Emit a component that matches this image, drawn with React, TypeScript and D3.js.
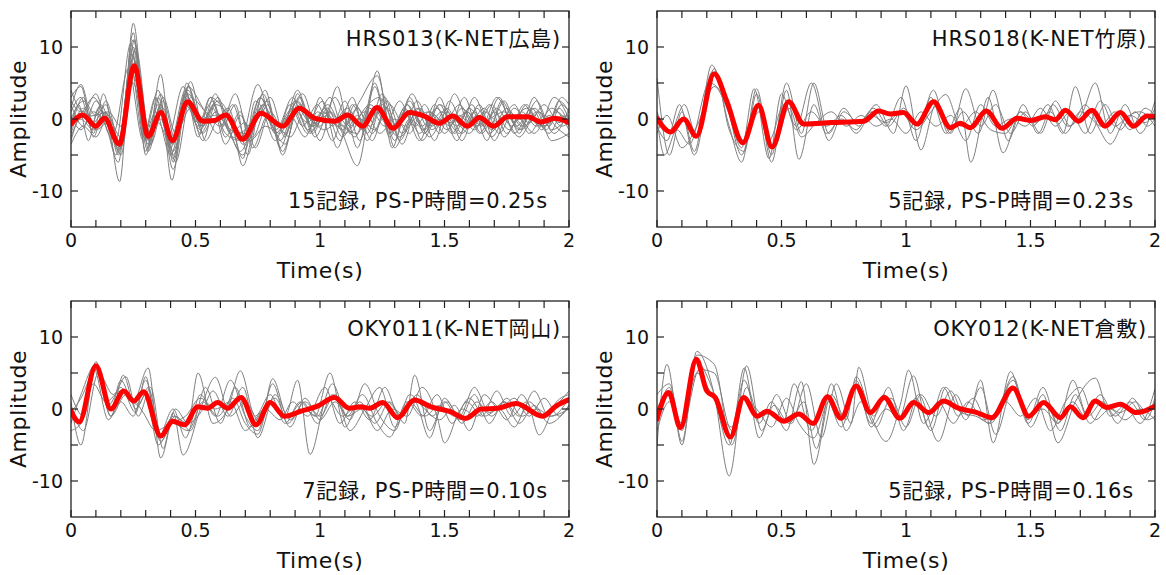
import React from 'react';
import * as d3 from 'd3';

type Pt = [number, number];

// ---------- labels ----------
const xTickValues = [0, 0.5, 1, 1.5, 2];
const xTickLabels = ['0', '0.5', '1', '1.5', '2'];
const yTickValues = [-10, 0, 10];
const yTickLabels = ['-10', '0', '10'];
const stationNames = ['HRS013(K-NET広島)', 'HRS018(K-NET竹原)', 'OKY011(K-NET岡山)', 'OKY012(K-NET倉敷)'];
const recordNotes = ['15記録, PS-P時間=0.25s', '5記録, PS-P時間=0.23s', '7記録, PS-P時間=0.10s', '5記録, PS-P時間=0.16s'];

// ---------- HRS013 ----------
const hrs013Mean: Pt[] = [[0,-0.7],[0.047,0.55],[0.1,-1],[0.134,0.1],[0.194,-3.5],[0.254,7.4],[0.31,-2.4],[0.361,0.9],[0.408,-3],[0.468,2.4],[0.529,-0.3],[0.576,-0.2],[0.622,0.55],[0.689,-2.8],[0.763,0.8],[0.85,-1],[0.917,1.5],[0.98,0.1],[1.06,-0.3],[1.111,0.55],[1.171,-1],[1.229,1.6],[1.294,-1.3],[1.359,0.9],[1.419,0.4],[1.479,-0.6],[1.533,0.4],[1.593,-1],[1.64,0.2],[1.697,-1],[1.754,0.3],[1.834,0.3],[1.888,-0.4],[1.941,0.1],[2,-0.5]];
const hrs013Records: Pt[][] = [
  [[0,-2],[0.05,1.5],[0.1,-1],[0.14,1],[0.195,-8.7],[0.25,13.3],[0.31,-4],[0.36,2],[0.405,-8.5],[0.465,5],[0.53,-2],[0.58,1],[0.63,-1.5],[0.69,-5],[0.76,3],[0.84,-3],[0.91,2.5],[0.97,-1],[1.03,2],[1.09,-2],[1.15,-6.5],[1.23,6.7],[1.29,-4],[1.35,2],[1.41,-1],[1.47,1.5],[1.53,-2],[1.59,1],[1.65,-2],[1.71,1.5],[1.77,-1],[1.83,2],[1.89,-1.5],[1.95,1],[2,-1]],
  [[0,3],[0.04,4.5],[0.09,-2],[0.13,3.5],[0.19,-5],[0.25,11],[0.31,-3],[0.36,6.2],[0.41,-6],[0.47,4.5],[0.53,-1],[0.57,2],[0.62,-2],[0.68,-3],[0.75,4.8],[0.82,-2],[0.88,1],[0.93,3.5],[1.0,-3],[1.07,4.5],[1.12,-2],[1.17,1],[1.24,3],[1.3,-3],[1.36,3],[1.42,-2],[1.48,2],[1.55,-3],[1.62,3],[1.68,-1],[1.74,2.5],[1.8,-2],[1.86,3],[1.92,-1],[1.97,2],[2,1]],
  [[0,-3.5],[0.05,-1],[0.1,-2.5],[0.15,0.5],[0.2,-4],[0.255,9.5],[0.31,-2],[0.36,1],[0.41,-4.5],[0.47,3],[0.52,-1],[0.57,1.5],[0.62,-3.5],[0.68,0.5],[0.73,-2.5],[0.79,2],[0.85,-4.5],[0.91,1],[0.96,-2],[1.02,1.5],[1.08,-3],[1.14,2],[1.2,-1],[1.26,3],[1.32,-3],[1.38,0.5],[1.44,-2.5],[1.5,0],[1.56,-2],[1.62,1],[1.68,-2],[1.74,0],[1.8,-2.5],[1.86,0],[1.92,-2],[1.97,0.5],[2,-0.5]],
  [[0,1],[0.04,3],[0.08,-1],[0.12,2],[0.18,-3],[0.24,10.5],[0.3,-4.5],[0.35,3],[0.4,-3],[0.46,4],[0.51,-2.5],[0.56,3],[0.61,-1],[0.66,2],[0.71,-5],[0.77,3.5],[0.83,-1],[0.89,1.5],[0.95,-2],[1.0,3],[1.05,-1],[1.1,2.5],[1.16,-3],[1.22,4.5],[1.28,-2],[1.34,1],[1.4,-3],[1.46,2],[1.52,-1],[1.58,3],[1.64,-2],[1.7,1],[1.76,-1.5],[1.82,2],[1.88,-1],[1.94,3],[2,0]],
  [[0,-1],[0.03,2],[0.07,-3],[0.11,1.5],[0.17,-2],[0.23,7],[0.29,-3],[0.34,1],[0.4,-5],[0.46,2],[0.52,-1.5],[0.58,3.5],[0.64,-2],[0.7,-0.5],[0.74,-4],[0.8,1],[0.86,-2],[0.92,2],[0.98,-0.5],[1.04,3],[1.1,-2],[1.16,0],[1.22,-1.5],[1.28,2],[1.34,-1],[1.4,1.5],[1.46,-3],[1.52,2.5],[1.58,-1],[1.64,2],[1.7,-3],[1.76,1],[1.82,-1],[1.88,1],[1.94,-2],[2,1.5]],
  [[0,2],[0.05,-1],[0.1,2.5],[0.15,-1],[0.2,-3.5],[0.26,8],[0.32,-2.5],[0.37,2.5],[0.42,-3],[0.48,5.2],[0.54,-3],[0.6,0.5],[0.65,-2.5],[0.71,-3],[0.77,2],[0.83,-1],[0.89,3],[0.95,-1.5],[1.01,1],[1.07,-1],[1.13,3],[1.19,-3],[1.25,2],[1.31,-1],[1.37,3.5],[1.43,-1],[1.49,1],[1.55,-1],[1.61,2],[1.67,-3],[1.73,2.5],[1.79,-1],[1.85,1.5],[1.91,-1.5],[1.96,2.5],[2,1]],
  [[0,0],[0.05,2.5],[0.1,0.5],[0.14,2],[0.19,-4.5],[0.245,9],[0.3,-1.5],[0.35,4],[0.41,-7],[0.47,3.5],[0.53,0],[0.59,2.5],[0.65,-1],[0.69,-6.5],[0.76,1.5],[0.82,-3],[0.88,2],[0.93,-1],[0.99,2],[1.05,-3],[1.1,1],[1.15,-4],[1.22,5],[1.28,-2.5],[1.34,1.5],[1.4,-2],[1.46,0.5],[1.51,-1.5],[1.57,1.5],[1.63,-1],[1.69,2],[1.75,-2],[1.81,1],[1.87,-1],[1.93,1.5],[2,-1.5]],
  [[0,-2.5],[0.04,0],[0.09,-1.5],[0.14,0.8],[0.2,-2.5],[0.25,6],[0.31,-3.5],[0.36,2],[0.4,-4],[0.46,3.5],[0.52,-2],[0.57,0.5],[0.62,-0.5],[0.68,-4.5],[0.74,0],[0.79,2.5],[0.85,-5],[0.91,1.5],[0.97,-1],[1.03,0.5],[1.09,-1.5],[1.15,1.5],[1.21,-2],[1.27,1.5],[1.33,-3.5],[1.39,1.5],[1.45,-1],[1.51,1.5],[1.57,-2],[1.63,0.5],[1.69,-2.5],[1.75,0.5],[1.81,-1.5],[1.87,1],[1.93,-3],[2,-2]],
  [[0,4],[0.05,1],[0.1,3.5],[0.15,-2],[0.19,-3],[0.25,10],[0.3,-3],[0.35,2],[0.41,-5.5],[0.46,2.5],[0.51,-1],[0.56,3],[0.62,1],[0.67,-2],[0.73,0],[0.78,4],[0.84,-4],[0.9,1],[0.95,-0.5],[1.01,2.5],[1.07,-4],[1.13,2],[1.19,-2],[1.25,3.5],[1.3,-1.5],[1.36,2.5],[1.42,-2],[1.48,3],[1.54,-2],[1.6,1.5],[1.66,-1],[1.72,3],[1.78,-2],[1.84,0.5],[1.9,-1],[1.96,1.5],[2,-1]],
  [[0,-0.5],[0.05,0.3],[0.1,0.5],[0.15,1],[0.2,-1],[0.25,5],[0.31,-4.5],[0.37,3],[0.42,-2],[0.48,1.5],[0.53,-1],[0.59,3],[0.64,-1.5],[0.7,-2],[0.76,3],[0.82,-1.5],[0.88,0.5],[0.94,-2.5],[0.99,1],[1.05,-0.5],[1.11,1.5],[1.17,-1.5],[1.23,1],[1.29,-1],[1.35,2],[1.41,-3],[1.47,0],[1.53,-0.5],[1.59,1],[1.65,-1],[1.71,3],[1.77,0],[1.83,1.5],[1.89,-1],[1.95,0],[2,0.5]],
  [[0,1.5],[0.04,4.8],[0.09,-0.5],[0.13,1],[0.18,-5],[0.25,8.5],[0.31,-1],[0.35,-0.5],[0.4,-3.5],[0.47,4],[0.52,0],[0.58,-0.5],[0.63,1.5],[0.69,-3.5],[0.75,0],[0.8,3],[0.86,-2.5],[0.91,3.5],[0.97,-2],[1.03,1.5],[1.09,-2.5],[1.15,0.5],[1.21,-3],[1.27,2.5],[1.33,-2],[1.39,2.5],[1.45,-1.5],[1.51,1],[1.57,-3],[1.63,1.5],[1.69,-1.5],[1.75,1.5],[1.81,-1],[1.87,2.5],[1.93,-1.5],[2,0.5]],
  [[0,-1.5],[0.05,3],[0.09,-2.5],[0.14,2.5],[0.2,-4],[0.255,11],[0.3,-2],[0.36,0],[0.41,-5],[0.47,2],[0.53,-3],[0.58,2],[0.64,0],[0.69,-5.5],[0.74,2.5],[0.8,-0.5],[0.86,-3.5],[0.92,3],[0.98,-2.5],[1.04,1],[1.1,-1],[1.16,2.5],[1.23,6],[1.3,-4],[1.36,0],[1.42,-1.5],[1.48,2],[1.54,0],[1.6,-2],[1.66,1],[1.72,-0.5],[1.78,2],[1.84,-2],[1.9,0.5],[1.96,-1.5],[2,-2.5]],
  [[0,0.5],[0.04,-1.5],[0.09,1],[0.14,-1],[0.19,-6],[0.25,12],[0.3,-5],[0.36,3.5],[0.41,-3.5],[0.47,4.5],[0.53,1.5],[0.59,-2],[0.65,2],[0.7,-2.5],[0.76,1],[0.82,-0.5],[0.88,-2.5],[0.94,1],[1.0,-1],[1.06,3],[1.12,-1],[1.18,1],[1.24,-2],[1.3,0],[1.36,-2],[1.42,2],[1.48,-2],[1.54,3.5],[1.6,-0.5],[1.66,1.5],[1.72,-2],[1.78,1.5],[1.84,-0.5],[1.9,2],[1.96,-0.5],[2,1]],
  [[0,-3],[0.05,1],[0.1,-1.5],[0.15,-0.5],[0.2,-5],[0.26,9.8],[0.32,-3.5],[0.37,1.5],[0.42,-6],[0.48,3],[0.54,1],[0.6,-1],[0.66,3.5],[0.72,-3],[0.78,-1],[0.84,-2],[0.9,2.5],[0.96,0],[1.02,-1.5],[1.08,0],[1.14,-2.5],[1.2,2],[1.26,-0.5],[1.32,-2.5],[1.38,0],[1.44,1],[1.5,-2],[1.56,0.5],[1.62,-1.5],[1.68,2],[1.74,-2.5],[1.8,0],[1.86,-2],[1.92,0.5],[1.97,-1],[2,-0.5]],
  [[0,2.5],[0.04,1],[0.09,3],[0.14,0],[0.19,-4],[0.24,7.5],[0.29,-2.5],[0.34,3],[0.39,-2.5],[0.45,4.5],[0.51,-0.5],[0.57,2.5],[0.62,-2.5],[0.68,1],[0.73,-4],[0.79,0.5],[0.85,-1],[0.91,4],[0.97,-1.5],[1.03,1],[1.09,-1],[1.15,-2],[1.2,1.5],[1.26,-1],[1.32,2.5],[1.38,-1],[1.44,1],[1.5,-0.5],[1.56,2],[1.62,-1],[1.68,0],[1.74,1],[1.8,-1.5],[1.86,1.5],[1.92,-0.5],[1.97,3],[2,2]],
];

// ---------- HRS018 ----------
const hrs018Mean: Pt[] = [[0,0.1],[0.054,-1.8],[0.107,0],[0.158,-2.4],[0.23,6.3],[0.28,2.5],[0.345,-3.3],[0.408,1.9],[0.462,-3.9],[0.529,2.4],[0.589,-0.7],[0.7,-0.5],[0.83,-0.3],[0.89,1.1],[0.937,0.7],[0.99,0.9],[1.044,-0.7],[1.111,2.4],[1.178,-1.2],[1.218,-0.6],[1.258,-1.2],[1.323,1.1],[1.386,-1.3],[1.446,0.1],[1.5,-0.2],[1.56,0.3],[1.6,-0.1],[1.64,1.2],[1.693,-0.3],[1.747,1.2],[1.8,-1],[1.861,0.9],[1.914,-1],[1.968,0.4],[2,0.3]];
const hrs018Records: Pt[][] = [
  [[0,5.7],[0.05,-5],[0.1,1],[0.15,-4.5],[0.22,7.5],[0.29,-1],[0.34,-6],[0.4,4.2],[0.46,-5],[0.52,5],[0.58,-2],[0.63,5],[0.69,-2],[0.75,1.5],[0.81,-1],[0.88,2],[0.95,-2],[1.0,4.6],[1.06,-4.3],[1.12,2],[1.18,-2],[1.24,4.2],[1.3,-1],[1.36,2],[1.42,-2],[1.48,1],[1.54,-2],[1.6,2.5],[1.66,-1],[1.72,2],[1.78,-1],[1.84,1],[1.9,-1.5],[1.96,1.5],[2,0.5]],
  [[0,-1],[0.04,-3],[0.09,2],[0.15,-5],[0.23,7],[0.29,-1.5],[0.35,-4.5],[0.4,3.5],[0.46,-6],[0.52,4],[0.57,-5.6],[0.63,2],[0.68,-2],[0.74,0],[0.8,-1.5],[0.86,1],[0.92,-1],[0.98,3],[1.04,-3],[1.1,3],[1.16,-2],[1.22,1.5],[1.26,-6],[1.33,3],[1.39,-4.7],[1.46,1],[1.51,-1],[1.57,2],[1.63,-2],[1.68,4.5],[1.74,-2],[1.8,2],[1.86,-1.5],[1.92,1],[1.97,-1],[2,0]],
  [[0,1],[0.05,-2],[0.11,2],[0.16,-2.5],[0.22,6.5],[0.28,2],[0.34,-5],[0.4,2],[0.45,-3],[0.51,2],[0.56,-1],[0.62,5],[0.69,-3],[0.75,1],[0.81,-0.5],[0.87,1.5],[0.93,-1],[0.99,1.5],[1.05,-1],[1.11,4],[1.17,-2],[1.23,1],[1.29,-2],[1.35,4],[1.41,-3],[1.47,2],[1.53,-2],[1.59,2],[1.65,-1],[1.71,1],[1.76,5],[1.82,-2],[1.88,2],[1.94,-2],[2,2.5]],
  [[0,0],[0.03,-5],[0.08,-1.5],[0.13,-3.5],[0.21,5],[0.27,3],[0.34,-4],[0.39,4.2],[0.45,-5.5],[0.5,3.5],[0.56,-1.5],[0.62,1],[0.68,-1],[0.74,0.5],[0.8,-2],[0.86,0.5],[0.92,-0.5],[0.98,1],[1.04,-1.5],[1.1,1],[1.16,3.4],[1.22,-1],[1.28,1],[1.34,-1.5],[1.4,-2],[1.46,1],[1.52,-0.5],[1.58,1],[1.64,-2],[1.7,1],[1.76,-0.5],[1.82,-3.5],[1.88,0],[1.94,1],[2,-1]],
  [[0,-2],[0.04,0.5],[0.1,-4],[0.16,-1],[0.23,4.5],[0.3,0],[0.35,-3],[0.41,1],[0.47,-4],[0.53,1.5],[0.58,-2.5],[0.64,-0.5],[0.7,1],[0.76,-1],[0.82,0.5],[0.88,-1],[0.94,0],[1.0,-2],[1.06,1],[1.12,-1],[1.18,0.5],[1.24,-3],[1.3,2],[1.36,-1],[1.42,0],[1.48,-1],[1.54,1.5],[1.6,-1],[1.66,1],[1.72,-2],[1.78,2.5],[1.84,-1],[1.9,0.5],[1.96,-0.5],[2,1.5]],
];

// ---------- OKY011 ----------
const oky011Mean: Pt[] = [[0,-0.3],[0.033,-1.8],[0.1,6],[0.16,0],[0.212,2.5],[0.252,1.1],[0.292,2.4],[0.361,-3.75],[0.408,-1.7],[0.455,-2.2],[0.509,0.3],[0.549,0.1],[0.589,0.9],[0.629,0.1],[0.683,1.6],[0.743,-2.2],[0.8,0.9],[0.857,-1],[0.924,-0.3],[0.99,0.4],[1.058,1.6],[1.118,0.1],[1.165,0.3],[1.2,0.1],[1.252,0.9],[1.312,-1.2],[1.379,1.25],[1.446,0.3],[1.526,-0.4],[1.586,-1.3],[1.647,0],[1.714,0.1],[1.787,0.75],[1.894,-1],[1.948,0.4],[2,1.3]];
const oky011Records: Pt[][] = [
  [[0,1],[0.04,-5],[0.1,6.6],[0.16,-1],[0.21,4.7],[0.26,0],[0.3,2],[0.35,-5],[0.41,-2],[0.47,-3],[0.53,1],[0.59,-1],[0.65,1.5],[0.7,-2],[0.75,-3.5],[0.8,1],[0.86,-1],[0.91,4],[0.96,-6.3],[1.03,1.5],[1.09,-1],[1.15,0.5],[1.21,-1],[1.27,1],[1.33,-1],[1.39,2],[1.45,-1],[1.51,1],[1.57,-2],[1.63,1],[1.69,-1],[1.75,1.5],[1.81,-1],[1.87,0],[1.93,-1],[2,1.5]],
  [[0,-2],[0.04,2],[0.1,6.2],[0.16,0],[0.2,4],[0.25,1],[0.31,5.7],[0.36,-6.8],[0.42,0],[0.47,-2],[0.51,5],[0.57,-2],[0.63,0],[0.68,5.3],[0.74,-1],[0.8,2],[0.86,-2],[0.92,1],[0.98,-1],[1.04,5],[1.1,-2.5],[1.16,1],[1.22,-2],[1.28,1],[1.34,-2],[1.38,4.7],[1.44,-3],[1.5,1],[1.56,-1.5],[1.62,2],[1.68,-2],[1.74,1],[1.8,-1],[1.86,2.5],[1.92,-1],[2,0]],
  [[0,0.5],[0.05,-3],[0.11,5],[0.17,2],[0.22,4.5],[0.27,-1],[0.32,3],[0.37,-5.5],[0.41,-0.5],[0.45,-6.4],[0.52,0],[0.58,4.4],[0.64,-1],[0.7,1],[0.76,-2],[0.81,4.2],[0.87,-1],[0.93,1],[0.99,-2],[1.05,2],[1.11,-1],[1.17,2],[1.23,-2],[1.28,-3.9],[1.35,1],[1.41,-1],[1.47,2],[1.53,-2],[1.59,1],[1.65,-1],[1.71,2.5],[1.77,-1],[1.83,1],[1.88,-3.6],[1.95,1],[2,2]],
  [[0,-1],[0.04,-2],[0.09,5.8],[0.15,-1.5],[0.2,1],[0.25,-1],[0.3,4],[0.36,-4.5],[0.42,-1],[0.48,-3],[0.54,3],[0.6,-2],[0.66,3],[0.72,-2.5],[0.78,0],[0.84,-1.5],[0.89,1],[0.95,-1],[1.02,3],[1.08,-2],[1.14,1],[1.2,-1.5],[1.26,3],[1.32,-1],[1.38,1],[1.44,-4],[1.5,1.5],[1.56,-1],[1.62,3],[1.68,-0.5],[1.74,1],[1.8,-2],[1.86,0.5],[1.92,-2],[2,0.5]],
  [[0,2],[0.05,-1],[0.1,6],[0.15,0.5],[0.2,3],[0.26,-0.5],[0.3,4.5],[0.35,-4],[0.41,0],[0.46,-4],[0.52,2],[0.58,-1],[0.64,4],[0.7,-1],[0.75,-3],[0.81,3.5],[0.87,-2],[0.93,0],[0.99,-1],[1.05,3.5],[1.11,-1],[1.17,0],[1.23,-3],[1.29,0],[1.35,-1],[1.41,3],[1.47,-1],[1.5,-4.7],[1.57,0],[1.63,-1],[1.69,1],[1.75,-1.5],[1.81,2],[1.87,-1],[1.93,0],[2,2.5]],
  [[0,-0.5],[0.04,1.5],[0.1,5.5],[0.16,-1],[0.22,2],[0.27,0.5],[0.31,3],[0.36,-3.5],[0.41,-1],[0.47,-2],[0.53,0],[0.57,2.5],[0.63,-1],[0.69,3],[0.75,-4],[0.82,2],[0.88,-1.5],[0.94,1],[1.0,-1],[1.06,2],[1.12,-3],[1.18,0],[1.24,3],[1.3,-2.5],[1.36,1],[1.42,-1],[1.48,0.5],[1.54,-1],[1.6,1.5],[1.66,-1],[1.72,0],[1.78,-2.5],[1.84,1],[1.9,-1],[1.96,0.5],[2,1]],
  [[0,-3],[0.04,-2],[0.09,3.5],[0.14,1],[0.2,2.5],[0.25,1.5],[0.29,-0.5],[0.34,-3],[0.4,-2],[0.46,-1],[0.52,1.5],[0.58,0],[0.64,1],[0.7,-3],[0.76,-0.5],[0.82,1.5],[0.88,-2.5],[0.94,1.5],[1.0,-1.5],[1.06,1],[1.12,-1.5],[1.18,3.5],[1.24,-1],[1.3,-3],[1.36,2],[1.42,0],[1.48,-1.5],[1.54,0.5],[1.6,-3],[1.66,2],[1.72,0],[1.78,1.5],[1.84,-1],[1.9,1.5],[1.96,-1],[2,0.5]],
];

// ---------- OKY012 ----------
const oky012Mean: Pt[] = [[0,-1.4],[0.047,2.3],[0.094,-2.6],[0.158,6.9],[0.2,2.5],[0.234,1.6],[0.295,-3.9],[0.348,1.6],[0.402,-1],[0.442,-0.3],[0.509,-1.7],[0.569,-0.7],[0.627,-2],[0.685,1.7],[0.739,-1.3],[0.8,3.2],[0.857,-0.5],[0.913,1.6],[0.975,-1.3],[1.031,0.9],[1.091,-0.5],[1.151,1.1],[1.205,0.2],[1.285,-0.5],[1.345,-1.2],[1.43,2.9],[1.493,-1],[1.553,0.9],[1.62,-1.2],[1.66,0.3],[1.711,-1.2],[1.76,1.1],[1.807,0.2],[1.861,0.65],[1.925,-0.5],[2,0.4]];
const oky012Records: Pt[][] = [
  [[0,-5],[0.04,6.2],[0.1,-5],[0.16,8],[0.23,2],[0.29,-9.3],[0.36,6],[0.42,-3],[0.48,2],[0.54,-2],[0.6,3.5],[0.66,-4],[0.72,3.5],[0.78,-2],[0.81,5.8],[0.87,-1],[0.93,3],[0.99,-3],[1.05,2],[1.13,-4.5],[1.2,2],[1.25,-1],[1.3,4],[1.35,-4.7],[1.42,5.2],[1.49,-2],[1.55,2],[1.61,-4.7],[1.68,1],[1.76,4.3],[1.82,-1],[1.88,0.5],[1.94,-2],[2,2.8]],
  [[0,-1],[0.05,3],[0.1,-4.5],[0.16,7.5],[0.23,6.2],[0.3,-5],[0.36,3],[0.41,-1],[0.47,-0.5],[0.52,-3],[0.58,3.8],[0.63,-7.7],[0.7,2],[0.76,-1.5],[0.8,4.5],[0.86,-1],[0.92,-4.5],[0.98,1],[1.01,5.4],[1.07,-2],[1.13,1],[1.19,-2],[1.25,1],[1.31,-1.5],[1.37,0],[1.43,4.5],[1.49,-1.5],[1.55,3],[1.61,-2],[1.67,1],[1.72,-1],[1.78,2],[1.84,-1],[1.9,1],[1.96,-1.5],[2,1]],
  [[0,2],[0.05,3.5],[0.1,-3],[0.16,6.5],[0.22,3],[0.29,-5],[0.35,4],[0.41,-2],[0.46,1],[0.51,-1.5],[0.55,3.5],[0.62,-3],[0.68,1.5],[0.74,-2.5],[0.8,3],[0.86,-2],[0.91,2],[0.97,-1.5],[1.03,4.6],[1.09,-2.5],[1.15,3],[1.21,-1],[1.27,1.5],[1.33,-2],[1.38,1],[1.43,4],[1.5,-2.5],[1.56,1],[1.62,-3],[1.68,2],[1.74,-2],[1.8,0.5],[1.86,-0.5],[1.92,1],[1.97,-0.5],[2,1.5]],
  [[0,0],[0.04,2],[0.1,-2.5],[0.17,5.5],[0.23,5],[0.3,-3],[0.35,5.7],[0.41,-4],[0.47,0.5],[0.53,-2],[0.59,1],[0.64,-5.5],[0.7,3.5],[0.76,-3],[0.82,1],[0.88,-2.5],[0.94,1.5],[1.0,-2.5],[1.06,2],[1.12,-1],[1.18,2.5],[1.24,-1.5],[1.3,3],[1.36,-3.5],[1.43,3],[1.49,-1],[1.55,0],[1.61,-2],[1.67,4],[1.73,-1],[1.79,1],[1.85,-2],[1.91,1.5],[1.97,-1.5],[2,-1]],
  [[0,-3],[0.05,1],[0.1,-2],[0.16,5],[0.22,2],[0.3,-2.5],[0.35,1.5],[0.4,0],[0.46,-2.5],[0.52,1.5],[0.57,-2],[0.63,-4],[0.69,1],[0.75,-1],[0.8,4],[0.86,-2.5],[0.92,0],[0.98,-1.5],[1.04,1.5],[1.1,-3],[1.16,3],[1.22,-0.5],[1.28,-1],[1.34,-2],[1.4,1],[1.46,-1],[1.52,1.5],[1.58,-3],[1.64,1],[1.7,3],[1.76,-1.5],[1.82,0],[1.88,-1.5],[1.94,0],[2,-1.5]],
];

const panelMeans = [hrs013Mean, hrs018Mean, oky011Mean, oky012Mean];
const panelRecords = [hrs013Records, hrs018Records, oky011Records, oky012Records];

// ---------- layout ----------
const W = 1166;
const H = 575;
const PW = 498;
const PH = 216;
const origins: [number, number][] = [[71, 11], [657, 11], [71, 301], [657, 301]];
const FONT = "'DejaVu Sans', 'Noto Sans CJK JP', sans-serif";

function Panel({ idx }: { idx: number }) {
  const [left, top] = origins[idx];
  const x = d3.scaleLinear().domain([0, 2]).range([left, left + PW]);
  const y = d3.scaleLinear().domain([-15, 15]).range([top + PH, top]);
  const line = d3.line<Pt>().x(d => x(d[0])).y(d => y(d[1])).curve(d3.curveMonotoneX);
  const minorX = x.ticks(20);
  const minorY = y.ticks(6).filter(v => v > -15 && v < 15);
  const tl = 7;
  const clipId = `clip${idx}`;
  return (
    <g>
      <defs>
        <clipPath id={clipId}>
          <rect x={left} y={top} width={PW} height={PH} />
        </clipPath>
      </defs>
      <g clipPath={`url(#${clipId})`}>
        {panelRecords[idx].map((r, i) => (
          <path key={i} d={line(r) || ''} fill="none" stroke="#808080" strokeWidth={1} />
        ))}
        <path d={line(panelMeans[idx]) || ''} fill="none" stroke="#ff0000" strokeWidth={5} strokeLinejoin="round" strokeLinecap="round" />
      </g>
      <rect x={left} y={top} width={PW} height={PH} fill="none" stroke="#222" strokeWidth={1.3} />
      {minorX.map((v, i) => (
        <g key={'x' + i}>
          <line x1={x(v)} x2={x(v)} y1={top + PH} y2={top + PH - tl} stroke="#222" strokeWidth={1.2} />
          <line x1={x(v)} x2={x(v)} y1={top} y2={top + tl} stroke="#222" strokeWidth={1.2} />
        </g>
      ))}
      {minorY.map((v, i) => (
        <g key={'y' + i}>
          <line x1={left} x2={left + tl} y1={y(v)} y2={y(v)} stroke="#222" strokeWidth={1.2} />
          <line x1={left + PW} x2={left + PW - tl} y1={y(v)} y2={y(v)} stroke="#222" strokeWidth={1.2} />
        </g>
      ))}
      {xTickValues.map((v, i) => (
        <text key={'xl' + i} x={x(v)} y={top + PH + 20} textAnchor="middle" fontSize={19} fontFamily={FONT} fill="#111">{xTickLabels[i]}</text>
      ))}
      {yTickValues.map((v, i) => (
        <text key={'yl' + i} x={left - 8} y={y(v) + 7} textAnchor="end" fontSize={19} fontFamily={FONT} fill="#111">{yTickLabels[i]}</text>
      ))}
      <text x={left + PW / 2} y={top + PH + 51} textAnchor="middle" fontSize={22} letterSpacing={0.6} fontFamily={FONT} fill="#111">Time(s)</text>
      <text transform={`translate(${left - 45},${top + PH / 2}) rotate(-90)`} textAnchor="middle" fontSize={22} letterSpacing={0.6} fontFamily={FONT} fill="#111">Amplitude</text>
      <text x={left + PW - 8} y={top + 35} textAnchor="end" fontSize={21} letterSpacing={0.8} fontFamily={FONT} fill="#111">{stationNames[idx]}</text>
      <text x={left + PW - 21} y={top + 197} textAnchor="end" fontSize={21} letterSpacing={0.8} fontFamily={FONT} fill="#111">{recordNotes[idx]}</text>
    </g>
  );
}

export default function App() {
  return (
    <svg width={W} height={H} style={{ position: 'absolute', left: 0, top: 0, background: '#fff' }}>
      <rect x={0} y={0} width={W} height={H} fill="#fff" />
      {[0, 1, 2, 3].map(i => <Panel key={i} idx={i} />)}
    </svg>
  );
}
